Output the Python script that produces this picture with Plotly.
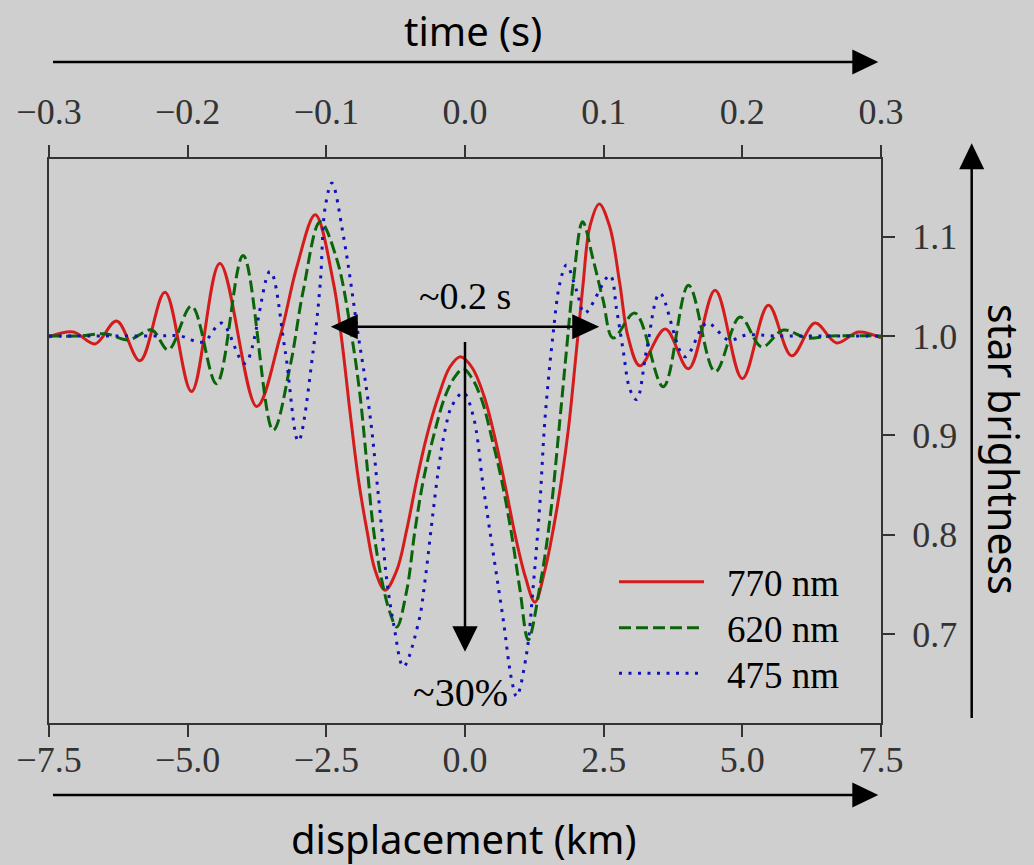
import plotly.graph_objects as go

# ---- light curves: displacement (km) vs normalised star brightness ----
red_km = [-7.50, -7.06, -6.67, -6.28, -5.86, -5.41, -4.93, -4.42, -3.755, -3.335,
          -3.03, -2.70, -2.37, -2.22, -2.07, -1.92, -1.77, -1.62, -1.44, -1.23,
          -1.05, -0.87, -0.69, -0.48, -0.27, -0.08, 0.13, 0.34, 0.55, 0.73,
          0.91, 1.09, 1.26, 1.44, 1.59, 1.74, 1.87, 2.01, 2.13, 2.25,
          2.42, 2.61, 2.79, 2.94, 3.155, 3.61, 4.03, 4.51, 5.00, 5.47,
          5.89, 6.31, 6.70, 7.09, 7.50]
red_y = [0.999, 1.004, 0.992, 1.015, 0.975, 1.044, 0.944, 1.073, 0.929, 0.999,
         1.070, 1.122, 1.053, 0.995, 0.922, 0.855, 0.805, 0.764, 0.744, 0.764,
         0.805, 0.855, 0.899, 0.939, 0.969, 0.979, 0.968, 0.940, 0.895, 0.848,
         0.798, 0.757, 0.732, 0.764, 0.805, 0.855, 0.909, 0.986, 1.053, 1.110,
         1.133, 1.110, 1.053, 0.999, 0.970, 1.007, 0.967, 1.046, 0.957, 1.031,
         0.980, 1.013, 0.993, 1.004, 0.998]

green_km = [-7.50, -7.00, -6.46, -6.07, -5.65, -5.35, -4.93, -4.48, -4.00, -3.46,
            -3.155, -2.915, -2.61, -2.31, -2.04, -1.89, -1.77, -1.65, -1.50, -1.35,
            -1.23, -1.05, -0.90, -0.75, -0.54, -0.36, -0.18, -0.03, 0.12, 0.30,
            0.48, 0.66, 0.84, 0.99, 1.14, 1.35, 1.53, 1.71, 1.83, 1.95,
            2.12, 2.31, 2.49, 2.67, 3.065, 3.575, 4.03, 4.51, 4.96, 5.35,
            5.74, 6.16, 6.60, 7.50]
green_y = [1.000, 1.000, 1.002, 0.996, 1.006, 0.986, 1.030, 0.952, 1.081, 0.905,
           0.969, 1.046, 1.115, 1.077, 0.999, 0.939, 0.872, 0.805, 0.754, 0.721,
           0.707, 0.744, 0.805, 0.855, 0.905, 0.939, 0.959, 0.967, 0.958, 0.936,
           0.898, 0.855, 0.800, 0.745, 0.694, 0.748, 0.815, 0.915, 0.986, 1.053,
           1.115, 1.077, 1.036, 0.998, 1.023, 0.949, 1.051, 0.964, 1.019, 0.989,
           1.006, 0.998, 1.000, 1.000]

blue_km = [-7.50, -6.50, -5.60, -5.14, -4.72, -4.39, -3.97, -3.515, -3.245, -3.005,
           -2.735, -2.61, -2.52, -2.40, -2.19, -1.92, -1.80, -1.68, -1.59, -1.50,
           -1.41, -1.29, -1.11, -0.84, -0.72, -0.60, -0.48, -0.36, -0.24, -0.03,
           0.15, 0.33, 0.51, 0.69, 0.84, 0.93, 1.11, 1.23, 1.35, 1.44,
           1.59, 1.71, 1.83, 2.01, 2.16, 2.61, 2.735, 2.85, 2.975, 3.095,
           3.275, 3.515, 3.965, 4.36, 4.75, 5.08, 5.60, 6.50, 7.50]
blue_y = [1.000, 1.000, 1.000, 1.000, 0.994, 1.013, 0.9725, 1.065, 0.986, 0.894,
          0.986, 1.053, 1.130, 1.154, 1.100, 0.999, 0.956, 0.905, 0.855, 0.805,
          0.754, 0.711, 0.667, 0.711, 0.754, 0.811, 0.865, 0.905, 0.929, 0.943,
          0.919, 0.848, 0.781, 0.714, 0.654, 0.637, 0.680, 0.748, 0.831, 0.915,
          1.003, 1.053, 1.0715, 1.046, 1.023, 1.061, 1.026, 0.986, 0.946, 0.936,
          0.986, 1.043, 0.979, 1.013, 0.996, 1.001, 1.000, 1.000, 1.000]

series_names = ["770 nm", "620 nm", "475 nm"]
series_colors = ["#d41c1c", "#0a640a", "#1212bb"]
series_dash = ["solid", "12px,5px", "3px,6.5px"]

# axis ticks
km_ticks = [-7.5, -5.0, -2.5, 0.0, 2.5, 5.0, 7.5]
time_ticks = [-0.3, -0.2, -0.1, 0.0, 0.1, 0.2, 0.3]
bright_ticks = [0.7, 0.8, 0.9, 1.0, 1.1]
X_RANGE = [-7.5, 7.5]
T_RANGE = [-0.3, 0.3]
Y_RANGE = [0.6103, 1.1782]

# annotation values
width_arrow_y = 1.0094
width_arrow_x = 2.42
depth_arrow_top = 0.994
depth_arrow_tip = 0.682


def fmt(v):
    s = f"{v:.1f}"
    return s.replace("-", "\u2212")


# ---- page geometry (pixels) ----
W, H = 1034, 865
PL, PR, PT, PB = 49, 881, 159, 723
PW, PH = PR - PL, PB - PT
KM_PER_PX = (X_RANGE[1] - X_RANGE[0]) / PW
Y_PER_PX = (Y_RANGE[1] - Y_RANGE[0]) / PH


def paper(px, py):
    return (px - PL) / PW, (PB - py) / PH


BG = "#cfcfcf"
AX = "#333333"
SERIF = "Liberation Serif"
SANS = "Noto Sans"

fig = go.Figure()

for xs, ys, name, col, dash in zip(
        [red_km, green_km, blue_km], [red_y, green_y, blue_y],
        series_names, series_colors, series_dash):
    fig.add_trace(go.Scatter(
        x=xs, y=ys, mode="lines", name=name, showlegend=False,
        line=dict(color=col, width=3, dash=dash, shape="spline", smoothing=1.0),
        hoverinfo="skip"))

# carrier trace for the time axis on top
fig.add_trace(go.Scatter(x=T_RANGE, y=[1.0, 1.0], xaxis="x2", mode="lines",
                         line=dict(width=0, color="rgba(0,0,0,0)"),
                         showlegend=False, hoverinfo="skip"))

shapes = []
annotations = []


def tri_paper(tip, base_c, half, vertical=False):
    (tx, ty), (bx, by) = paper(*tip), paper(*base_c)
    if vertical:
        hx = half / PW
        pts = [(tx, ty), (bx - hx, by), (bx + hx, by)]
    else:
        hy = half / PH
        pts = [(tx, ty), (bx, by - hy), (bx, by + hy)]
    return dict(type="path", xref="paper", yref="paper", layer="above",
                path="M{},{} L{},{} L{},{} Z".format(*[c for p in pts for c in p]),
                fillcolor="black", line=dict(color="black", width=0))


def line_paper(p0, p1, w=2.5):
    (x0, y0), (x1, y1) = paper(*p0), paper(*p1)
    return dict(type="line", xref="paper", yref="paper", x0=x0, y0=y0, x1=x1, y1=y1,
                layer="above", line=dict(color="black", width=w))


# outer direction arrows next to the axis titles
HEAD_L, HEAD_W = 26, 12.5
for ay in (62, 795):
    shapes.append(line_paper((53, ay), (862, ay)))
    shapes.append(tri_paper((878.3, ay), (878.3 - HEAD_L, ay), HEAD_W))
shapes.append(line_paper((971.7, 718), (971.7, 160)))
shapes.append(tri_paper((971.7, 143.3), (971.7, 143.3 + HEAD_L), HEAD_W, vertical=True))

# width arrow (~0.2 s), in data coordinates
hl = 27 * KM_PER_PX
hw = 12.5 * Y_PER_PX
shapes.append(dict(type="line", xref="x", yref="y", x0=-width_arrow_x + hl * 0.6,
                   x1=width_arrow_x - hl * 0.6, y0=width_arrow_y, y1=width_arrow_y,
                   line=dict(color="black", width=2.5), layer="above"))
for sgn in (-1, 1):
    tip = sgn * width_arrow_x
    base = tip - sgn * hl
    shapes.append(dict(type="path", xref="x", yref="y", layer="above",
                       path=f"M{tip},{width_arrow_y} L{base},{width_arrow_y + hw} "
                            f"L{base},{width_arrow_y - hw} Z",
                       fillcolor="black", line=dict(color="black", width=0)))

# depth arrow (~30%)
vl = 25.5 * Y_PER_PX
vw = 12.7 * KM_PER_PX
shapes.append(dict(type="line", xref="x", yref="y", x0=0, x1=0, y0=depth_arrow_top,
                   y1=depth_arrow_tip + vl * 0.6, line=dict(color="black", width=2.5),
                   layer="above"))
shapes.append(dict(type="path", xref="x", yref="y", layer="above",
                   path=f"M0,{depth_arrow_tip} L{-vw},{depth_arrow_tip + vl} "
                        f"L{vw},{depth_arrow_tip + vl} Z",
                   fillcolor="black", line=dict(color="black", width=0)))

annotations.append(dict(x=0, y=1.040, xref="x", yref="y", text="~0.2 s",
                        showarrow=False, font=dict(family=SERIF, size=38, color="black"),
                        xanchor="center", yanchor="middle"))
annotations.append(dict(x=-0.08, y=0.641, xref="x", yref="y", text="~30%",
                        showarrow=False, font=dict(family=SERIF, size=40, color="black"),
                        xanchor="center", yanchor="middle"))

# legend drawn by hand: long line samples with labels
legend_rows = [581.7, 627.7, 673.3]
for row, name, col, dash in zip(legend_rows, series_names, series_colors, series_dash):
    x0, y0 = paper(619, row)
    x1, _ = paper(704, row)
    shapes.append(dict(type="line", xref="paper", yref="paper", x0=x0, x1=x1, y0=y0,
                       y1=y0, line=dict(color=col, width=3, dash=dash)))
    tx, ty = paper(725, row + 2)
    annotations.append(dict(x=tx, y=ty, xref="paper", yref="paper", text=name,
                            showarrow=False, xanchor="left", yanchor="middle",
                            font=dict(family=SERIF, size=37, color="black")))

# axis titles
for text, (cx, cy), angle, size in [("time (s)", (472.5, 31), 0, 40),
                                    ("displacement (km)", (463.5, 838), 0, 40),
                                    ("star brightness", (1004, 449), 90, 41)]:
    x, y = paper(cx, cy)
    annotations.append(dict(x=x, y=y, xref="paper", yref="paper", text=text,
                            showarrow=False, textangle=angle, xanchor="center",
                            yanchor="middle",
                            font=dict(family=SANS, size=size, color="black")))

axis_common = dict(showgrid=False, zeroline=False, showline=True, linewidth=2,
                   linecolor=AX, ticks="outside", ticklen=12, tickwidth=2,
                   tickcolor=AX, tickfont=dict(family=SERIF, size=36, color=AX))

fig.update_layout(
    width=W, height=H,
    margin=dict(l=PL, r=W - PR, t=PT, b=H - PB, pad=0),
    paper_bgcolor=BG, plot_bgcolor=BG,
    showlegend=False,
    xaxis=dict(range=X_RANGE, tickvals=km_ticks, ticktext=[fmt(v) for v in km_ticks],
               ticklabelstandoff=-8, **axis_common),
    xaxis2=dict(range=T_RANGE, overlaying="x", side="top", tickvals=time_ticks,
                ticktext=[fmt(v) for v in time_ticks], ticklabelstandoff=7,
                **axis_common),
    yaxis=dict(range=Y_RANGE, side="right", mirror=True, tickvals=bright_ticks,
               ticktext=[fmt(v) for v in bright_ticks], ticklabelstandoff=10,
               **axis_common),
    shapes=shapes,
    annotations=annotations,
)

fig.write_html("out.html")
